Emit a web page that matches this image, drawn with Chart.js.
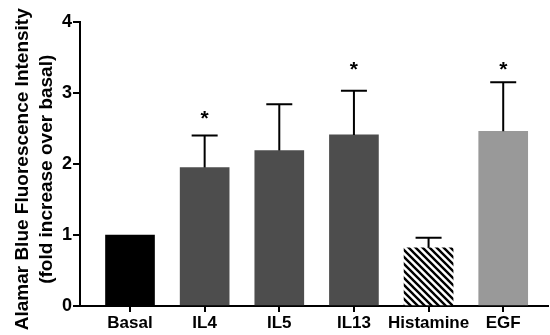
<!DOCTYPE html>
<html>
<head>
<meta charset="utf-8">
<script src="https://cdn.jsdelivr.net/npm/chart.js@4.4.0/dist/chart.umd.min.js"></script>
<style>
    html, body { margin: 0; padding: 0; background: #ffffff; }
    #wrap { width: 550px; height: 335px; position: relative; }
</style>
</head>
<body>
<div id="wrap"><canvas id="alamarChart"></canvas></div>
<script>
// dados
const categories = ['Basal', 'IL4', 'IL5', 'IL13', 'Histamine', 'EGF'];
const meanValues = [1.00, 1.95, 2.19, 2.41, 0.82, 2.46];
const semValues = [0, 0.45, 0.65, 0.62, 0.14, 0.69];
const starLevels = [null, 2.72, null, 3.41, null, 3.41];
const yTicks = [0, 1, 2, 3, 4];

// padrão listrado para Histamine
function makeHatch() {
    const size = 7;
    const c = document.createElement('canvas');
    c.width = size;
    c.height = size;
    const g = c.getContext('2d');
    g.fillStyle = '#ffffff';
    g.fillRect(0, 0, size, size);
    g.strokeStyle = '#000000';
    g.lineWidth = 2.4;
    g.beginPath();
    g.moveTo(-1, -1); g.lineTo(size + 1, size + 1);
    g.moveTo(-1, size - 1); g.lineTo(1, size + 1);
    g.moveTo(size - 1, -1); g.lineTo(size + 1, 1);
    g.stroke();
    return g.createPattern(c, 'repeat');
}

const barColors = ['#000000', '#4d4d4d', '#4d4d4d', '#4d4d4d', makeHatch(), '#999999'];

// barras de erro (só para cima) e asteriscos
const errorBarsPlugin = {
    id: 'errorBars',
    afterDatasetsDraw(chart) {
        const ctx = chart.ctx;
        const x = chart.scales.x;
        const y = chart.scales.y;
        ctx.save();
        ctx.strokeStyle = '#000000';
        ctx.lineWidth = 2;
        meanValues.forEach((v, i) => {
            if (!semValues[i]) return;
            const px = x.getPixelForValue(i);
            const top = y.getPixelForValue(v + semValues[i]);
            ctx.beginPath();
            ctx.moveTo(px, y.getPixelForValue(v));
            ctx.lineTo(px, top);
            ctx.moveTo(px - 13, top);
            ctx.lineTo(px + 13, top);
            ctx.stroke();
        });
        ctx.fillStyle = '#000000';
        ctx.font = "bold 21px 'Liberation Sans', Arial, sans-serif";
        ctx.textAlign = 'center';
        ctx.textBaseline = 'alphabetic';
        starLevels.forEach((s, i) => {
            if (s === null) return;
            ctx.fillText('*', x.getPixelForValue(i), y.getPixelForValue(s) + 12);
        });
        ctx.restore();
    }
};

const ctx = document.getElementById('alamarChart');
new Chart(ctx.getContext('2d'), {
    type: 'bar',
    data: {
        datasets: [{
            data: meanValues.map((v, i) => ({ x: i, y: v })),
            backgroundColor: barColors,
            borderWidth: 0,
            barThickness: 49
        }]
    },
    options: {
        responsive: true,
        maintainAspectRatio: false,
        animation: false,
        layout: {
            padding: { top: 22, right: 2, left: 0, bottom: 0 }
        },
        plugins: {
            legend: { display: false },
            tooltip: { enabled: false }
        },
        scales: {
            x: {
                type: 'linear',
                min: -0.67,
                max: 5.6,
                offset: false,
                afterBuildTicks: function(scale) {
                    scale.ticks = categories.map((c, i) => ({ value: i }));
                },
                afterFit: function(scale) {
                    scale.height = 29;
                },
                ticks: {
                    callback: function(value) {
                        return categories[value];
                    },
                    autoSkip: false,
                    color: '#000000',
                    font: { family: "'Liberation Sans', Arial, sans-serif", size: 17, weight: 'bold' },
                    padding: 1,
                    maxRotation: 0
                },
                grid: {
                    offset: false,
                    drawOnChartArea: false,
                    drawTicks: true,
                    tickLength: 6,
                    color: '#000000',
                    lineWidth: 2
                },
                border: { color: '#000000', width: 2 }
            },
            y: {
                min: 0,
                max: 4,
                afterBuildTicks: function(scale) {
                    scale.ticks = yTicks.map(v => ({ value: v }));
                },
                afterFit: function(scale) {
                    scale.width = 80;
                },
                ticks: {
                    color: '#000000',
                    font: { family: "'Liberation Sans', Arial, sans-serif", size: 18, weight: 'bold' },
                    padding: 1
                },
                grid: {
                    drawOnChartArea: false,
                    drawTicks: true,
                    tickLength: 7,
                    color: '#000000',
                    lineWidth: 2
                },
                border: { color: '#000000', width: 2 },
                title: {
                    display: true,
                    text: ['Alamar Blue Fluorescence Intensity  ', '(fold increase over basal)  '],
                    color: '#000000',
                    font: { family: "'Liberation Sans', Arial, sans-serif", size: 19, weight: 'bold', lineHeight: 1.25 },
                    padding: { top: 11, bottom: 0 }
                }
            }
        }
    },
    plugins: [errorBarsPlugin]
});
</script>
</body>
</html>
